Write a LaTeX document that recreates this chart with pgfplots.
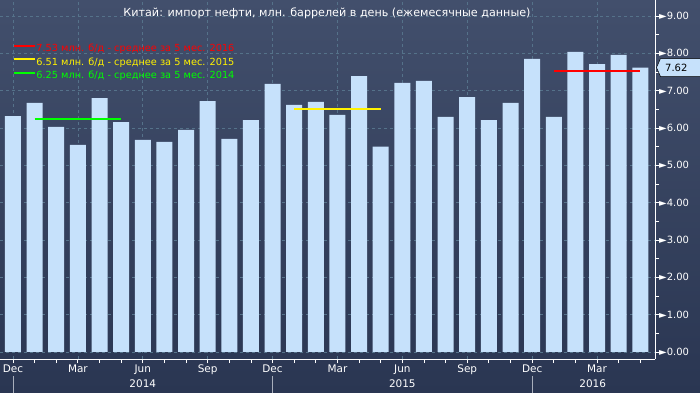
\documentclass[border=0pt]{standalone}
\usepackage{fontspec}
\setmainfont{DejaVu Sans}
\usepackage{pgfplots}
\pgfplotsset{compat=1.18}
\definecolor{bgtop}{HTML}{424F6C}
\definecolor{bgbot}{HTML}{2A3652}
\definecolor{barc}{HTML}{C6E1FB}
\definecolor{gridc}{HTML}{55728A}
\definecolor{sepc}{HTML}{A8AEBB}
\begin{document}
\begin{tikzpicture}
\useasboundingbox (0,0) rectangle (700bp,393bp);
\shade[top color=bgtop, bottom color=bgbot] (0,0) rectangle (700bp,393bp);
\begin{axis}[
  at={(0bp,34bp)}, anchor=south west,
  scale only axis, width=655bp, height=359bp,
  xmin=-0.6, xmax=29.68, ymin=-0.19, ymax=9.43,
  axis x line*=bottom, axis y line*=right,
  axis line style={-, white, line width=1bp},
  tick align=outside,
  tick style={white, line width=0.8bp},
  major tick length=4bp, minor tick length=4bp,
  xtick={0,3,...,27},
  xticklabels={Dec,Mar,Jun,Sep,Dec,Mar,Jun,Sep,Dec,Mar},
  minor xtick={0,...,29},
  ytick={0,...,9}, minor ytick={0.5,1.5,...,8.5},
  yticklabel pos=right,
  /pgf/number format/assume math mode=true,
  yticklabel={►\pgfmathprintnumber[fixed,fixed zerofill,precision=2]{\tick}},
  grid=major,
  major grid style={gridc, dash pattern=on 3bp off 3bp, line width=0.7bp},
  ticklabel style={font=\fontsize{10.5}{12}\selectfont, text=white},
  yticklabel style={anchor=west, inner sep=0pt, font=\fontsize{10}{12}\selectfont},
  xticklabel style={inner sep=0pt, yshift=-2bp},
  clip=false,
  legend style={at={(0.0198,0.877)}, anchor=north west, draw=none, fill=none,
    inner sep=0pt, row sep=4bp, font=\fontsize{9.8}{11}\selectfont,
    nodes={inner sep=0pt, text height=7.5bp, text depth=2bp},
    /tikz/every even column/.append style={column sep=0pt}},
  legend cell align=left,
  legend image code/.code={\draw[#1, line width=2.2bp] (0bp,3.5bp) -- (21bp,3.5bp);},
]
\addplot[ybar, bar width=16bp, bar shift=0pt, fill=barc, draw=none, forget plot] coordinates {
(0,6.32) (1,6.67) (2,6.03) (3,5.55) (4,6.80) (5,6.16) (6,5.68) (7,5.63) (8,5.95) (9,6.72)
(10,5.71) (11,6.21) (12,7.18) (13,6.62) (14,6.70) (15,6.35) (16,7.39) (17,5.50) (18,7.21) (19,7.26)
(20,6.30) (21,6.83) (22,6.21) (23,6.67) (24,7.85) (25,6.30) (26,8.04) (27,7.71) (28,7.96) (29,7.62)};
\addplot[red, line width=2.2bp] coordinates {(25,7.53) (29,7.53)};
\addlegendentry{\textcolor{red}{7.53 млн. б/д - среднее за 5 мес. 2016}}
\addplot[yellow, line width=2.2bp] coordinates {(13,6.51) (17,6.51)};
\addlegendentry{\textcolor{yellow}{6.51 млн. б/д - среднее за 5 мес. 2015}}
\addplot[green, line width=2.2bp] coordinates {(1,6.25) (5,6.25)};
\addlegendentry{\textcolor{green}{6.25 млн. б/д - среднее за 5 мес. 2014}}
\draw[sepc, line width=0.8bp] (axis cs:0,-0.643) -- (axis cs:0,-1.12);
\draw[sepc, line width=0.8bp] (axis cs:12,-0.643) -- (axis cs:12,-1.12);
\draw[sepc, line width=0.8bp] (axis cs:24,-0.643) -- (axis cs:24,-1.12);
\node[text=white, font=\fontsize{10.5}{12}\selectfont] at (axis cs:6,-0.86) {2014};
\node[text=white, font=\fontsize{10.5}{12}\selectfont] at (axis cs:18,-0.86) {2015};
\node[text=white, font=\fontsize{10.5}{12}\selectfont] at (axis cs:26.8,-0.86) {2016};
\coordinate (vl) at (axis cs:29.68,7.62);
\end{axis}
\draw[draw=black, fill=barc, line width=0.5bp] ([xshift=1.5bp]vl) -- ([xshift=5.5bp,yshift=9bp]vl) -- ([xshift=60bp,yshift=9bp]vl) -- ([xshift=60bp,yshift=-9bp]vl) -- ([xshift=5.5bp,yshift=-9bp]vl) -- cycle;
\node[anchor=west, font=\fontsize{10}{12}\selectfont, text=black, inner sep=0pt] at ([xshift=10bp]vl) {7.62};
\node[text=white, font=\fontsize{11.2}{13}\selectfont] at (327bp,380bp) {Китай: импорт нефти, млн. баррелей в день (ежемесячные данные)};
\end{tikzpicture}
\end{document}
